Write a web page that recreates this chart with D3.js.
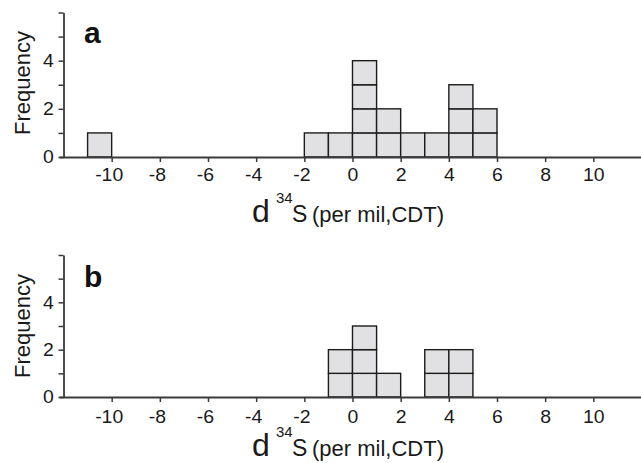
<!DOCTYPE html>
<html>
<head>
<meta charset="utf-8">
<script src="https://cdn.jsdelivr.net/npm/d3@7"></script>
<style>
  body { margin: 0; background: #fff; }
  svg { display: block; font-family: "Liberation Sans", Arial, Helvetica, sans-serif; }
</style>
</head>
<body>
<svg id="chart" width="641" height="463"></svg>
<script>
// ---- data ----
const panelLabels = ["a", "b"];
// left edges of 1-per-mil bins and their counts
const binsA = [-11, -2, -1, 0, 1, 2, 3, 4, 5];
const countsA = [1, 1, 1, 4, 2, 1, 1, 3, 2];
const binsB = [-1, 0, 1, 3, 4];
const countsB = [2, 3, 1, 2, 2];
const xTicks = [-10, -8, -6, -4, -2, 0, 2, 4, 6, 8, 10];
const yTicks = [0, 1, 2, 3, 4, 5, 6];
const yTickLabels = [0, 2, 4];
const yLabel = "Frequency";

const svg = d3.select("#chart");
const x = d3.scaleLinear().domain([-12, 12]).range([63.5, 641.5]);

const panels = [
  { label: panelLabels[0], bins: binsA, counts: countsA, y0: 157, y6: 12.5, tickLabelY: 11, titleY: 222, labelY: 43, freqY: 83 },
  { label: panelLabels[1], bins: binsB, counts: countsB, y0: 397, y6: 255, tickLabelY: 13.5, titleY: 456, labelY: 287, freqY: 326 }
];

panels.forEach(p => {
  const y = d3.scaleLinear().domain([0, 6]).range([p.y0, p.y6]);
  const g = svg.append("g");

  // cells (each count drawn as a stacked unit box)
  const cells = [];
  p.bins.forEach((b, i) => {
    for (let k = 0; k < p.counts[i]; k++) cells.push({ b, k });
  });
  g.selectAll("rect.cell").data(cells).enter().append("rect")
    .attr("class", "cell")
    .attr("x", d => x(d.b))
    .attr("y", d => y(d.k + 1))
    .attr("width", d => x(d.b + 1) - x(d.b))
    .attr("height", d => y(d.k) - y(d.k + 1))
    .attr("fill", "#e1e1e3")
    .attr("stroke", "#1c1c1c")
    .attr("stroke-width", 1.4);

  // x axis
  const xa = g.append("g")
    .attr("transform", `translate(0,${p.y0})`)
    .call(d3.axisBottom(x).tickValues(xTicks).tickSize(5).tickSizeOuter(0)
      .tickPadding(p.tickLabelY - 5).tickFormat(d => String(d)));
  xa.select(".domain").attr("stroke", "#3a3a3a").attr("stroke-width", 1.8)
    .attr("d", `M${x(-12) - 4},0.5H${x(12)}`);
  xa.selectAll(".tick line").attr("stroke", "#3a3a3a").attr("stroke-width", 1.5);
  xa.selectAll(".tick text")
    .attr("font-size", 18).attr("fill", "#1a1a1a")
    .attr("font-family", "\"Liberation Sans\", Arial, sans-serif")
    .attr("transform", d => `translate(${d < 0 ? -3 : 0},0) scale(1.08,1)`);

  // y axis
  const ya = g.append("g")
    .attr("transform", `translate(${x(-12)},0)`)
    .call(d3.axisLeft(y).tickValues(yTicks).tickSize(5).tickSizeOuter(0).tickPadding(4)
      .tickFormat(d => yTickLabels.includes(d) ? String(d) : ""));
  ya.select(".domain").attr("stroke", "#3a3a3a").attr("stroke-width", 1.8);
  ya.selectAll(".tick line").attr("stroke", "#3a3a3a").attr("stroke-width", 1.5);
  ya.selectAll(".tick text")
    .attr("font-size", 18).attr("fill", "#1a1a1a")
    .attr("font-family", "\"Liberation Sans\", Arial, sans-serif")
    .attr("transform", "scale(1.08,1)");

  // y label
  g.append("text")
    .attr("transform", `translate(30,${p.freqY}) rotate(-90)`)
    .attr("text-anchor", "middle")
    .attr("font-size", 22)
    .attr("fill", "#1a1a1a")
    .text(yLabel);

  // panel label
  g.append("text")
    .attr("x", 84).attr("y", p.labelY)
    .attr("font-size", 30).attr("font-weight", "bold")
    .attr("fill", "#111")
    .text(p.label);

  // x title: d^34S (per mil,CDT)
  const t = g.append("g").attr("fill", "#1a1a1a");
  t.append("text").attr("x", 252).attr("y", p.titleY).attr("font-size", 32).text("d");
  t.append("text").attr("x", 276).attr("y", p.titleY - 19).attr("font-size", 15).text("34");
  t.append("text").attr("x", 292).attr("y", p.titleY).attr("font-size", 23).text("S");
  t.append("text").attr("x", 312).attr("y", p.titleY).attr("font-size", 22).text("(per mil,CDT)");
});
</script>
</body>
</html>
